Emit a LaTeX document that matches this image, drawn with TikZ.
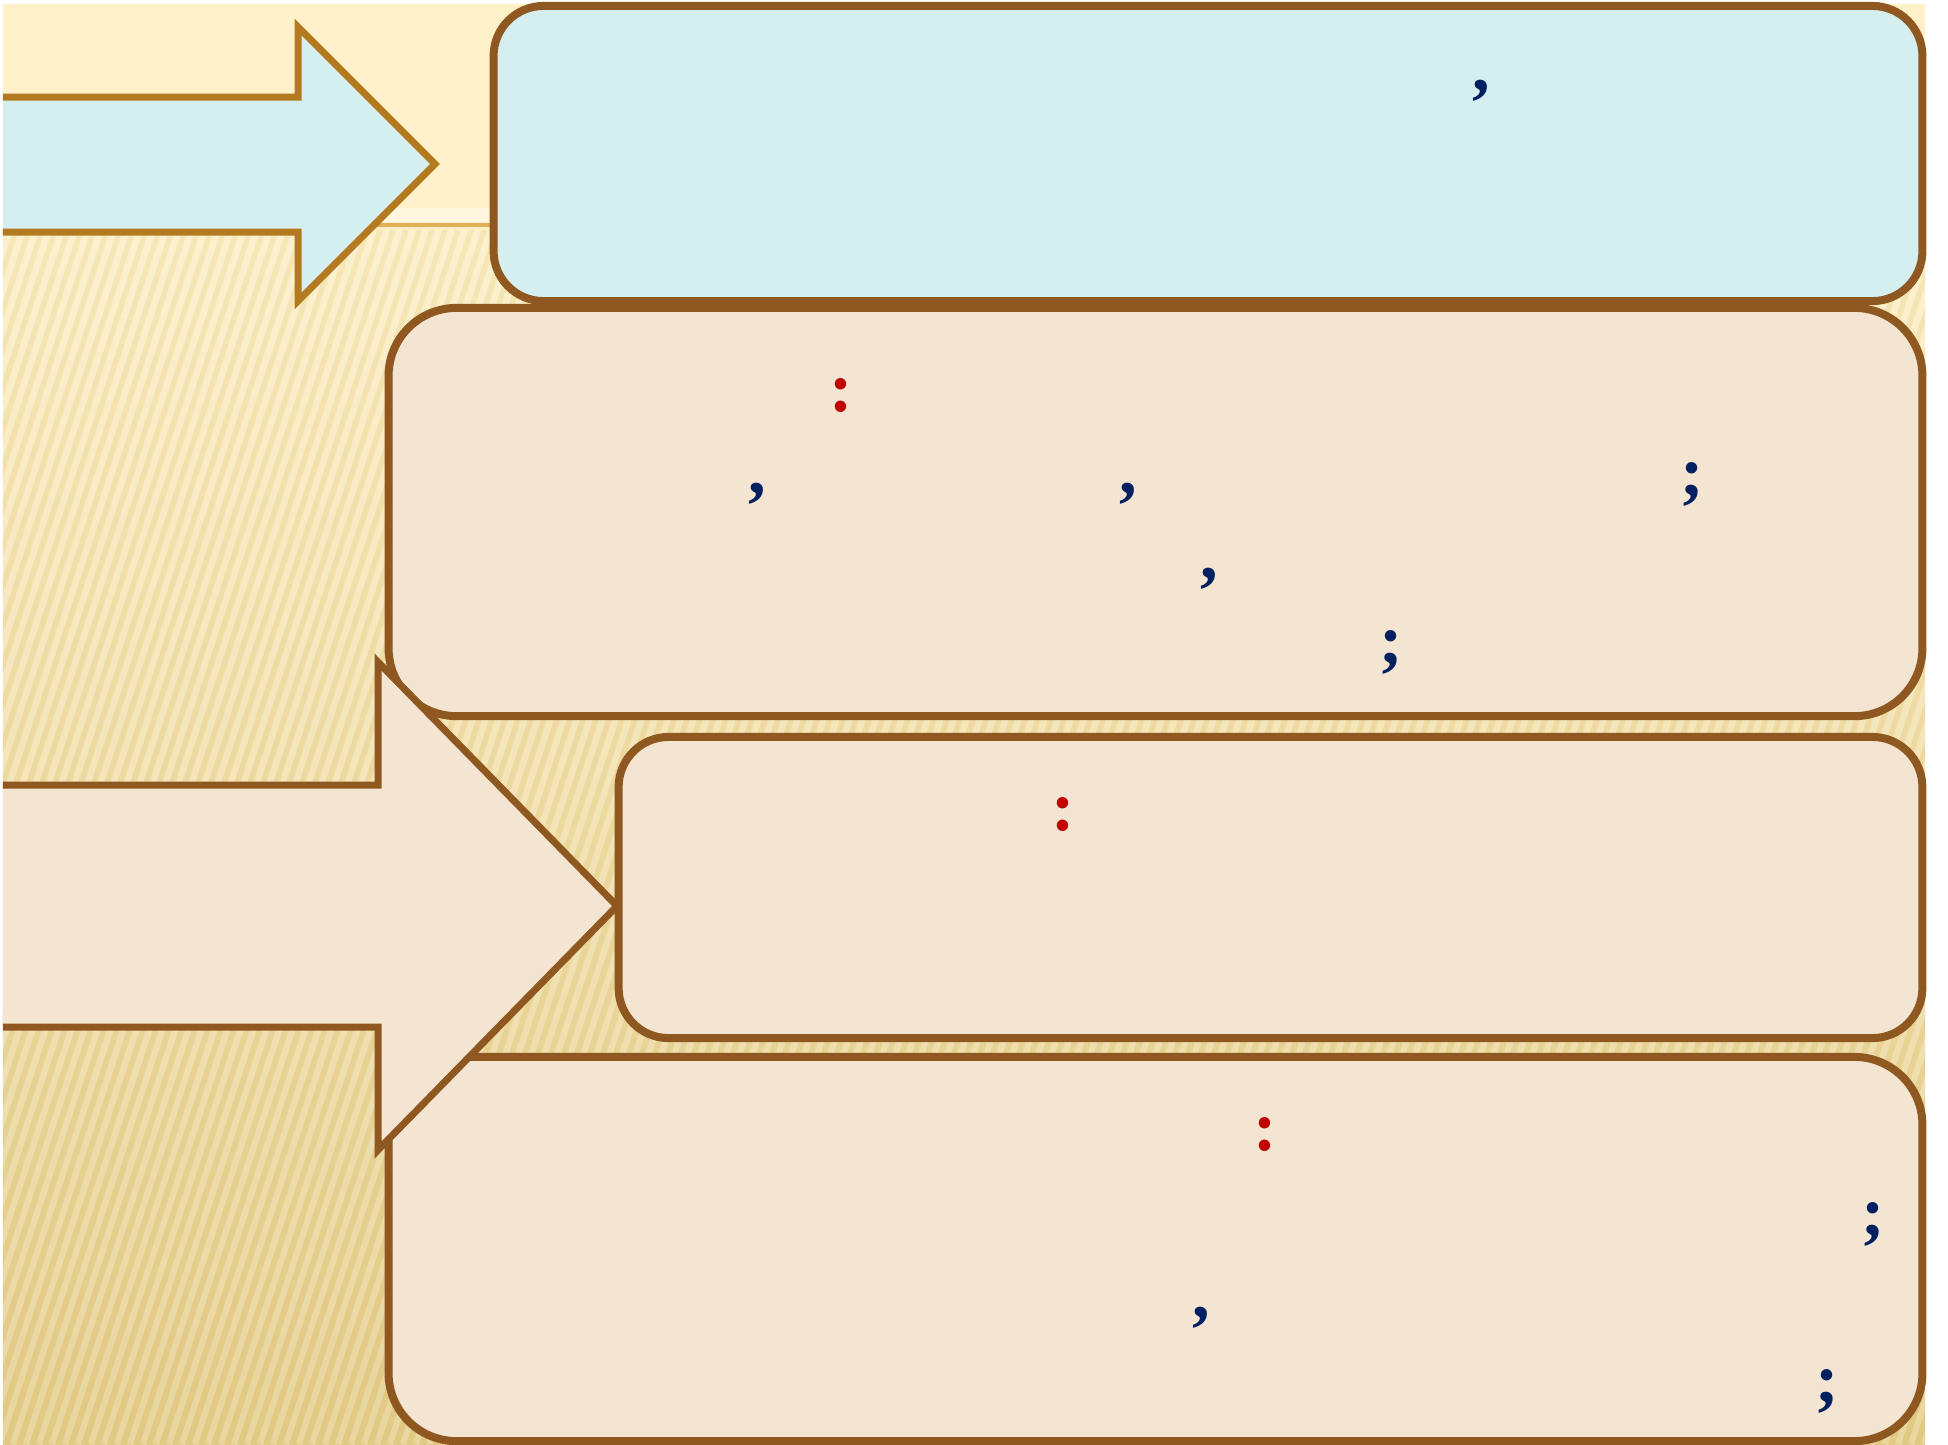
\documentclass[tikz,border=0pt]{standalone}
\usepackage{fontspec}
\setmainfont{Liberation Serif}
\usepackage{xcolor}
\usepackage{tikz}
\usetikzlibrary{positioning,calc}
\definecolor{slidetop}{HTML}{FEF0C8}
\definecolor{slidemid}{HTML}{FCEDC2}
\definecolor{slidelow}{HTML}{E3CB86}
\definecolor{stripedark}{HTML}{D8BC6C}
\definecolor{goldline}{HTML}{E2AE58}
\definecolor{boxbrown}{HTML}{8F5820}
\definecolor{arrowgold}{HTML}{B47A20}
\definecolor{paleblue}{HTML}{D5EEF0}
\definecolor{palebeige}{HTML}{F4E4D2}
\definecolor{inknavy}{HTML}{002060}
\definecolor{inkred}{HTML}{C00000}
\tikzset{
  panel/.style={draw=boxbrown, line width=0.08cm, fill=palebeige, inner sep=0pt},
  bluepanel/.style={panel, fill=paleblue, rounded corners=0.5cm},
  bigarrow/.style={line width=0.07cm, draw=boxbrown, fill=palebeige, miter limit=10},
  bluearrow/.style={bigarrow, draw=arrowgold, fill=paleblue},
  punct/.style={inner sep=0pt, text=inknavy, font=\fontsize{20}{24}\selectfont\bfseries},
  redpunct/.style={punct, text=inkred}
}

\begin{document}
\begin{tikzpicture}[x=0.01cm, y=-0.01cm]
  \useasboundingbox (0,0) rectangle (1948,1444);
  % slide background
  \fill[white] (0,0) rectangle (1948,1444);
  \fill[slidetop] (3,4) rectangle (1925,228);
  \shade[top color=slidemid, bottom color=slidelow] (3,228) rectangle (1925,1444);
  \begin{scope}
    \clip (3,230) rectangle (1925,1444);
    \foreach \s in {-520,-507,...,1930} {
      \draw[white, opacity=0.22, line width=0.06cm] (\s,1444) -- ++(400,-1214);
      \draw[stripedark, opacity=0.12, line width=0.05cm] (\s+6,1444) -- ++(400,-1214);
    }
  \end{scope}
  \fill[white, opacity=0.4] (3,208) rectangle (1925,222);
  \draw[goldline, line width=0.04cm] (3,225) -- (1925,225);

  % top row
  \node[bluepanel, minimum width=14.28cm, minimum height=2.95cm] (goal) at (1208,153.5) {};
  \path[bluearrow] (3,97) -- (298,97) -- (298,27) -- (435,164) -- (298,301) -- (298,232) -- (3,232);

  % lower panels
  \node[panel, rounded corners=0.68cm, minimum width=15.33cm, minimum height=4.08cm] (tasks) at (1155.5,512) {};
  \node[panel, rounded corners=0.68cm, minimum width=15.33cm, minimum height=3.84cm] (results) at (1155.5,1249) {};
  \path[bigarrow] (3,785) -- (378,785) -- (378,662) -- (617,906) -- (378,1150) -- (378,1027) -- (3,1027);
  \node[panel, rounded corners=0.5cm, minimum width=13.03cm, minimum height=3.01cm] (means) at (1270.5,887.5) {};

  % what is left of the text
  \node[punct] (goalc) at (1481,91) {,};
  \node[redpunct] (tasksh) at (841,395) {:};
  \node[punct] (tasksa) at (757,494) {,};
  \node[punct] (tasksb) at (1128,494) {,};
  \node[punct] (tasksc) at (1692,484) {;};
  \node[punct] (tasksd) at (1209,579) {,};
  \node[punct] (taskse) at (1391,652) {;};
  \node[redpunct] (meansh) at (1063,814) {:};
  \node[redpunct] (resultsh) at (1265,1134) {:};
  \node[punct] (resultsa) at (1873,1224) {;};
  \node[punct] (resultsb) at (1201,1318) {,};
  \node[punct] (resultsc) at (1827,1391) {;};
\end{tikzpicture}
\end{document}
